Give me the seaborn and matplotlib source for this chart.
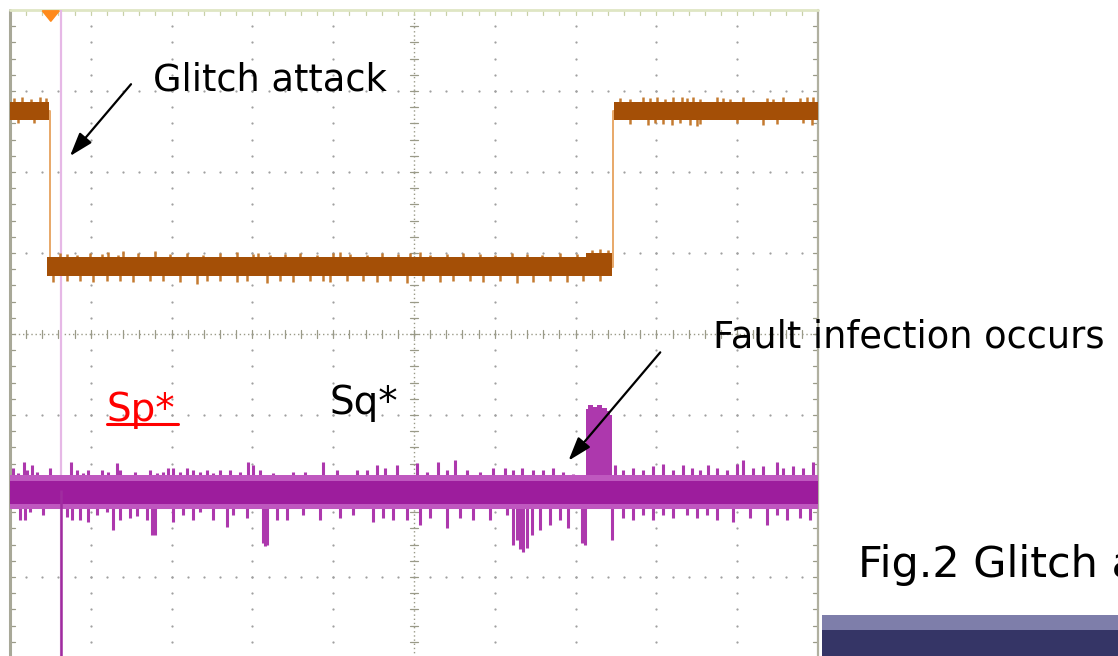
import numpy as np
import pandas as pd
import seaborn as sns
import matplotlib
matplotlib.use("Agg")
import matplotlib.pyplot as plt
from matplotlib.patches import Rectangle, Polygon

sns.set_theme(style="white")
plt.rcParams['font.family'] = ['DejaVu Sans']

# ---- scope trace data (screen divisions: x 0..10, y -4..4) ----
# channel 1 (clock / trigger line): step levels and edges
ch1_x = [0.0, 0.495, 0.495, 7.46, 7.46, 10.0]
ch1_y = [2.75, 2.75, 0.83, 0.83, 2.75, 2.75]
ch1_high, ch1_low = 2.75, 0.83
ch1_fall, ch1_rise = 0.495, 7.46

# channel 1 noise spikes on the high level
ch1_hi_up_x = [0.05, 0.15, 0.26, 0.37, 0.45, 7.55, 7.67, 7.83, 7.92, 8.01, 8.11, 8.21, 8.32, 8.38,
               8.45, 8.54, 8.75, 8.82, 8.91, 9.07, 9.37, 9.44, 9.57, 9.78, 9.86, 9.94]
ch1_hi_up_y = [2.91, 2.92, 2.90, 2.92, 2.91, 2.91, 2.90, 2.92, 2.91, 2.93, 2.90, 2.92, 2.93, 2.91,
               2.92, 2.90, 2.92, 2.91, 2.90, 2.92, 2.91, 2.90, 2.92, 2.91, 2.93, 2.92]
ch1_hi_dn_x = [0.10, 0.30, 7.67, 7.90, 7.98, 8.08, 8.19, 8.29, 8.42, 8.50, 8.54, 9.00, 9.32, 9.49,
               9.81, 9.93]
ch1_hi_dn_y = [2.60, 2.60, 2.59, 2.58, 2.60, 2.59, 2.58, 2.60, 2.58, 2.57, 2.59, 2.60, 2.58, 2.59,
               2.60, 2.58]
# channel 1 noise spikes on the low level
ch1_lo_up_x = [0.62, 0.70, 0.83, 0.99, 1.14, 1.21, 1.34, 1.40, 1.58, 1.79, 1.98, 2.19, 2.39, 2.60,
               2.81, 3.01, 3.07, 3.22, 3.40, 3.59, 3.80, 4.00, 4.08, 4.21, 4.42, 4.60, 4.80, 4.95,
               5.07, 5.20, 5.41, 5.61, 5.82, 6.00, 6.21, 6.40, 6.58, 6.81, 7.02, 7.20, 7.30, 7.40]
ch1_lo_up_y = [1.00, 0.99, 0.98, 1.00, 0.99, 1.01, 0.98, 1.02, 1.00, 1.03, 0.99, 1.00, 0.98, 1.00,
               1.01, 0.99, 1.00, 0.98, 0.99, 1.00, 0.98, 1.00, 1.01, 0.99, 0.98, 1.00, 0.99, 1.00,
               1.01, 0.98, 0.99, 1.00, 0.99, 0.98, 1.00, 0.99, 0.98, 1.00, 0.99, 1.04, 1.05, 1.04]
ch1_lo_dn_x = [0.53, 0.71, 0.87, 1.03, 1.20, 1.36, 1.52, 1.73, 1.89, 2.10, 2.31, 2.44, 2.60, 2.81,
               2.93, 3.18, 3.34, 3.50, 3.71, 3.87, 3.96, 4.17, 4.37, 4.54, 4.70, 4.91, 5.11, 5.32,
               5.48, 5.69, 5.85, 6.06, 6.27, 6.47, 6.68, 6.89, 7.09, 7.30]
ch1_lo_dn_y = [0.64, 0.65, 0.66, 0.64, 0.65, 0.66, 0.64, 0.65, 0.66, 0.64, 0.62, 0.65, 0.66, 0.64,
               0.65, 0.63, 0.65, 0.64, 0.66, 0.65, 0.64, 0.65, 0.66, 0.64, 0.65, 0.63, 0.66, 0.64,
               0.65, 0.66, 0.64, 0.65, 0.63, 0.64, 0.65, 0.64, 0.66, 0.65]

# channel 2 (power / fault line)
ch2_base = -1.93
ch2_glitch_x = 0.63
ch2_block_x = [7.13, 7.18, 7.24, 7.30, 7.36, 7.41, 7.45]
ch2_block_top = [-0.92, -0.88, -0.90, -0.88, -0.91, -0.95, -1.00]

ch2_up_x = [0.04, 0.10, 0.17, 0.21, 0.27, 0.33, 0.41, 0.50, 0.59, 0.68, 0.75, 0.83, 0.90, 0.97,
            1.08, 1.14, 1.21, 1.32, 1.36, 1.45, 1.55, 1.65, 1.73, 1.82, 1.89, 1.96, 2.02, 2.10,
            2.19, 2.26, 2.35, 2.44, 2.51, 2.60, 2.72, 2.85, 2.95, 3.01, 3.09, 3.25, 3.34, 3.50,
            3.65, 3.87, 4.05, 4.29, 4.42, 4.54, 4.64, 4.79, 5.04, 5.16, 5.30, 5.41, 5.51, 5.66,
            5.82, 5.98, 6.13, 6.23, 6.34, 6.47, 6.60, 6.72, 6.84, 6.97, 7.49, 7.59, 7.71, 7.83,
            7.96, 8.08, 8.21, 8.33, 8.44, 8.54, 8.64, 8.75, 8.87, 9.00, 9.07, 9.20, 9.32, 9.49,
            9.57, 9.69, 9.81, 9.94]
ch2_up_y = [-1.66, -1.72, -1.58, -1.68, -1.62, -1.70, -1.78, -1.66, -1.78, -1.74, -1.58, -1.68,
            -1.72, -1.68, -1.75, -1.68, -1.70, -1.59, -1.68, -1.74, -1.70, -1.74, -1.68, -1.72,
            -1.70, -1.65, -1.65, -1.70, -1.65, -1.68, -1.70, -1.68, -1.72, -1.68, -1.68, -1.70,
            -1.58, -1.62, -1.68, -1.72, -1.78, -1.70, -1.70, -1.58, -1.68, -1.68, -1.68, -1.62,
            -1.65, -1.62, -1.59, -1.70, -1.58, -1.68, -1.56, -1.68, -1.70, -1.65, -1.65, -1.68,
            -1.65, -1.68, -1.68, -1.65, -1.70, -1.73, -1.62, -1.68, -1.65, -1.68, -1.63, -1.60,
            -1.68, -1.62, -1.65, -1.68, -1.62, -1.65, -1.68, -1.60, -1.56, -1.65, -1.63, -1.58,
            -1.65, -1.63, -1.65, -1.58]
ch2_dn_x = [0.12, 0.19, 0.25, 0.41, 0.71, 0.77, 0.87, 0.97, 1.08, 1.20, 1.27, 1.36, 1.49, 1.57,
            1.70, 1.76, 1.79, 2.02, 2.14, 2.26, 2.35, 2.51, 2.69, 2.76, 2.93, 3.13, 3.16, 3.18,
            3.30, 3.43, 3.63, 3.84, 4.08, 4.24, 4.49, 4.62, 4.74, 4.91, 5.07, 5.20, 5.41, 5.57,
            5.73, 5.94, 6.15, 6.23, 6.27, 6.31, 6.35, 6.40, 6.46, 6.56, 6.68, 6.81, 6.91, 7.08,
            7.12, 7.45, 7.59, 7.71, 7.83, 7.96, 8.08, 8.21, 8.38, 8.50, 8.63, 8.75, 8.95, 9.16,
            9.37, 9.49, 9.62, 9.78, 9.90]
ch2_dn_y = [-2.30, -2.30, -2.20, -2.23, -2.26, -2.30, -2.30, -2.32, -2.23, -2.20, -2.42, -2.30,
            -2.27, -2.25, -2.30, -2.48, -2.48, -2.32, -2.23, -2.30, -2.20, -2.30, -2.38, -2.23,
            -2.27, -2.58, -2.62, -2.60, -2.30, -2.30, -2.23, -2.30, -2.27, -2.23, -2.32, -2.27,
            -2.30, -2.30, -2.36, -2.27, -2.40, -2.27, -2.30, -2.30, -2.23, -2.60, -2.54, -2.66,
            -2.69, -2.64, -2.48, -2.42, -2.36, -2.30, -2.40, -2.58, -2.60, -2.54, -2.27, -2.30,
            -2.23, -2.30, -2.23, -2.27, -2.23, -2.27, -2.23, -2.30, -2.32, -2.27, -2.36, -2.23,
            -2.30, -2.27, -2.30]

# ---- figure ----
W, H = 1118, 656
fig = plt.figure(figsize=(W / 100, H / 100), dpi=100)
fig.patch.set_facecolor("white")
ax = fig.add_axes([10 / W, -2 / H, 808 / W, 648 / H])
ax.set_xlim(0, 10)
ax.set_ylim(-4, 4)
ax.set_facecolor("white")
for s in ax.spines.values():
    s.set_visible(False)
ax.set_xticks([])
ax.set_yticks([])

# graticule: dotted major lines with dots every minor division
gcol = "#a0a0a0"
minor = np.arange(0, 10.001, 0.2)
minor_y = np.arange(-4, 4.001, 0.2)
for gx in range(1, 10):
    if gx == 5:
        continue
    ax.scatter(np.full(minor_y.size, gx), minor_y, s=2.6, color=gcol, lw=0, zorder=1)
for gy in range(-3, 4):
    if gy == 0:
        continue
    ax.scatter(minor, np.full(minor.size, gy), s=2.6, color=gcol, lw=0, zorder=1)
# centre axes with fine dots and ticks
ax.plot([0, 10], [0, 0], ls=(0, (1, 2)), color="#9a9a88", lw=1.0, zorder=1)
ax.plot([5, 5], [-4, 4], ls=(0, (1, 2)), color="#9a9a88", lw=1.0, zorder=1)
for t in minor:
    ax.plot([t, t], [-0.05, 0.05], color="#9a9a88", lw=0.9, zorder=1)
for t in minor_y:
    ax.plot([4.95, 5.05], [t, t], color="#9a9a88", lw=0.9, zorder=1)
# left / right border ticks
for t in minor_y:
    ax.plot([0, 0.06], [t, t], color="#9a9a88", lw=0.9, zorder=1)
    ax.plot([9.94, 10], [t, t], color="#9a9a88", lw=0.9, zorder=1)
for t in minor:
    ax.plot([t, t], [3.94, 4.0], color="#c8d0a8", lw=0.9, zorder=1)
ax.plot([0, 0], [-4, 4], color="#a8a898", lw=2.2, zorder=2, clip_on=False)
ax.plot([10, 10], [-4, 4], color="#b0b0a0", lw=1.6, zorder=2, clip_on=False)
ax.plot([0, 10], [4, 4], color="#dfe6c4", lw=2.0, zorder=2, clip_on=False)

# glitch marker line (full height)
ax.axvline(ch2_glitch_x, color="#e6b8e6", lw=1.6, zorder=3)

# ---- channel 1 ----
c1_dark, c1_light, c1_edge = "#a44f06", "#c47a30", "#e8a868"
df1 = pd.DataFrame({"x": ch1_x, "y": ch1_y})
sns.lineplot(data=df1, x="x", y="y", sort=False, estimator=None, color=c1_edge, lw=1.4,
             ax=ax, zorder=3)
ax.fill_between([0, ch1_fall - 0.01], ch1_high - 0.11, ch1_high + 0.11, color=c1_dark, lw=0, zorder=4)
ax.fill_between([ch1_rise + 0.01, 10], ch1_high - 0.11, ch1_high + 0.11, color=c1_dark, lw=0, zorder=4)
ax.fill_between([ch1_fall - 0.04, ch1_rise - 0.01], ch1_low - 0.12, ch1_low + 0.12, color=c1_dark,
                lw=0, zorder=4)
ax.fill_between([7.13, ch1_rise - 0.01], ch1_low, ch1_low + 0.17, color=c1_dark, lw=0, zorder=4)
ax.vlines(ch1_hi_up_x, ch1_high, ch1_hi_up_y, color=c1_light, lw=1.8, zorder=3)
ax.vlines(ch1_hi_dn_x, ch1_high, ch1_hi_dn_y, color=c1_light, lw=1.8, zorder=3)
ax.vlines(ch1_lo_up_x, ch1_low, ch1_lo_up_y, color=c1_light, lw=1.8, zorder=3)
ax.vlines(ch1_lo_dn_x, ch1_low, ch1_lo_dn_y, color=c1_light, lw=1.8, zorder=3)

# ---- channel 2 ----
c2_dark, c2_mid, c2_light = "#950f95", "#ad38ad", "#bf58bf"
ax.vlines(ch2_up_x, ch2_base, ch2_up_y, color=c2_mid, lw=2.2, zorder=4)
ax.vlines(ch2_dn_x, ch2_base, ch2_dn_y, color=c2_mid, lw=2.2, zorder=4)
ax.fill_between([0, 10], ch2_base - 0.23, ch2_base + 0.19, color=c2_light, lw=0, zorder=5)
ax.fill_between([0, 10], ch2_base - 0.17, ch2_base + 0.11, color=c2_dark, lw=0, zorder=5, alpha=0.8)
ax.fill_between(ch2_block_x, ch2_base, ch2_block_top, step="mid", color=c2_mid, lw=0, zorder=4)
ax.vlines([ch2_glitch_x], -4.2, ch2_base, color="#a02ca0", lw=1.8, zorder=5)

# trigger marker
ax.add_patch(Polygon([[0.40, 3.99], [0.61, 3.99], [0.505, 3.86]], closed=True,
                     color="#ff8a1c", zorder=6, clip_on=False))

# ---- annotations ----
fs = 26.5
arrow = dict(arrowstyle="-|>,head_length=1.2,head_width=0.4", color="black", lw=1.6)
ax.text(1.77, 3.14, "Glitch attack", fontsize=fs, va="center", ha="left", color="black", zorder=7)
ax.annotate("", xy=(0.72, 2.17), xytext=(1.52, 3.11), arrowprops=arrow, zorder=7)
ax.text(8.70, -0.04, "Fault infection occurs", fontsize=fs, va="center", ha="left",
        color="black", clip_on=False, zorder=7)
ax.annotate("", xy=(6.89, -1.59), xytext=(8.07, -0.20), arrowprops=arrow, zorder=7)
ax.text(1.20, -0.94, "Sp*", fontsize=28, va="center", ha="left", color="#ff0000", zorder=7)
ax.plot([1.20, 2.08], [-1.11, -1.11], color="#ff0000", lw=2.2, zorder=7)
ax.text(3.96, -0.85, "Sq*", fontsize=28, va="center", ha="left", color="black", zorder=7)

# slide caption (runs off the right edge of the slide crop)
fig.text(858 / W, 1 - 565 / H, "Fig.2 Glitch attack", fontsize=31, va="center", ha="left",
         color="black")

# slide footer bands
fig.patches.append(Rectangle((822 / W, 1 - 630 / H), (W - 822) / W, 15 / H,
                             transform=fig.transFigure, color="#7e7eaa", lw=0))
fig.patches.append(Rectangle((822 / W, 0), (W - 822) / W, 26 / H,
                             transform=fig.transFigure, color="#353566", lw=0))

fig.savefig("out.png", dpi=100)
